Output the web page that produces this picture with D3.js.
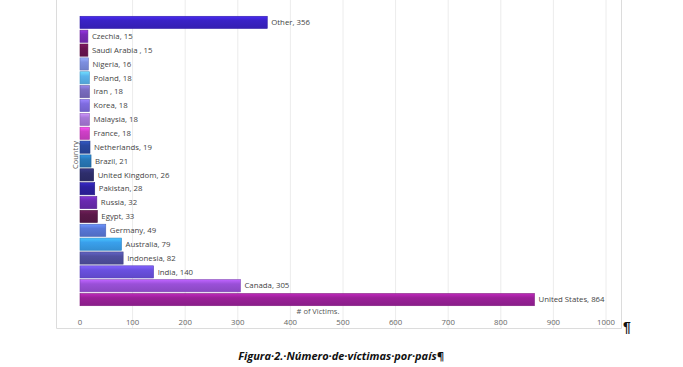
<!DOCTYPE html>
<html><head><meta charset="utf-8">
<script src="https://cdn.jsdelivr.net/npm/d3@7"></script>
<style>body{margin:0;background:#fff;}svg{display:block;font-family:"Open Sans","Liberation Sans",sans-serif;}</style>
</head><body><svg id="c" width="683" height="367"></svg>
<script>
const countries = ["Other","Czechia","Saudi Arabia ","Nigeria","Poland","Iran ","Korea","Malaysia","France","Netherlands","Brazil","United Kingdom","Pakistan","Russia","Egypt","Germany","Australia","Indonesia","India","Canada","United States"];
const victims = [356,15,15,16,18,18,18,18,18,19,21,26,28,32,33,49,79,82,140,305,864];
const barColors = ["#3a22c6","#7a2ab8","#6a1450","#7d8fe0","#5ab4ec","#7a6cc0","#7f6ce0","#a878d8","#d040c8","#2a48a0","#2878b8","#2e2e6c","#2c20a0","#6a2ab0","#5a1848","#5878d8","#3aa0ec","#5050a0","#6a50e0","#9a50d8","#9a2098"];
const xTicks = [0,100,200,300,400,500,600,700,800,900,1000];

const svg = d3.select("#c");
const x = d3.scaleLinear().domain([0,1000]).range([80,606]);
const y = d3.scaleBand().domain(countries).range([16,306]).paddingInner(0.12).paddingOuter(0.02);

svg.append("g").selectAll("line").data(xTicks.slice(1)).join("line")
  .attr("x1",d=>x(d)).attr("x2",d=>x(d)).attr("y1",0).attr("y2",328)
  .attr("stroke","#ececec").attr("stroke-width",1);

svg.append("path").attr("d","M56.5,0V328.5H621.5V0").attr("fill","none").attr("stroke","#dcdcdc");

const defs = svg.append("defs");
barColors.forEach((c,i)=>{
  const g = defs.append("linearGradient").attr("id","g"+i).attr("x1",0).attr("y1",0).attr("x2",0).attr("y2",1);
  g.append("stop").attr("offset","0%").attr("stop-color",d3.color(c).brighter(0.6));
  g.append("stop").attr("offset","35%").attr("stop-color",c);
  g.append("stop").attr("offset","100%").attr("stop-color",d3.color(c).darker(0.3));
});

const data = countries.map((c,i)=>({c, v:victims[i], i}));
svg.append("g").selectAll("rect").data(data).join("rect")
  .attr("x",x(0)).attr("y",d=>y(d.c)).attr("height",y.bandwidth())
  .attr("width",d=>x(d.v)-x(0))
  .attr("fill",d=>`url(#g${d.i})`)
  .attr("stroke",d=>d3.color(barColors[d.i]).darker(0.5)).attr("stroke-width",0.6);

svg.append("g").selectAll("text").data(data).join("text")
  .attr("x",d=>x(d.v)+4).attr("y",d=>y(d.c)+y.bandwidth()/2).attr("dy","0.35em")
  .attr("font-size",7.8).attr("fill","#444")
  .text(d=>`${d.c}, ${d.v}`);

svg.append("g").selectAll("text").data(xTicks).join("text")
  .attr("x",d=>x(d)).attr("y",322).attr("dy","0.35em").attr("text-anchor","middle")
  .attr("font-size",7.8).attr("fill","#666").text(d=>d);

svg.append("text").attr("x",318).attr("y",311).attr("dy","0.35em").attr("text-anchor","middle")
  .attr("font-size",7.5).attr("fill","#555").text("# of  Victims.");

svg.append("text").attr("transform","translate(75,155) rotate(-90)").attr("dy","0.35em").attr("text-anchor","middle")
  .attr("font-size",7.5).attr("fill","#555").text("Country");

svg.append("text").attr("x",623).attr("y",332).attr("font-size",14).attr("font-weight","bold").attr("fill","#111")
  .attr("font-family","Liberation Sans, sans-serif").text("¶");

svg.append("text").attr("x",341).attr("y",356).attr("dy","0.35em").attr("text-anchor","middle")
  .attr("font-size",11).attr("font-weight","bold").attr("font-style","italic").attr("fill","#111")
  .text("Figura·2.·Número·de·víctimas·por·país¶");
</script></body></html>
